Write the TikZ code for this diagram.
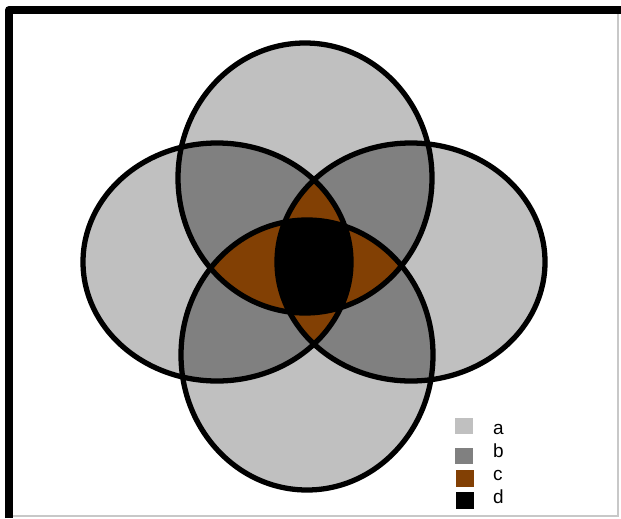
\documentclass[tikz,border=0pt]{standalone}
\usepackage{fontspec}
\setmainfont{Liberation Sans}
\definecolor{onecol}{RGB}{192,192,192}
\definecolor{twocol}{RGB}{128,128,128}
\definecolor{threecol}{RGB}{130,64,4}
\definecolor{fourcol}{RGB}{0,0,0}
\definecolor{edgecol}{RGB}{200,200,200}
% the four sets, y runs downward (pixel units)
\newcommand{\ellTop}[1]{\path[#1] (305,178) ellipse [x radius=127, y radius=135];}
\newcommand{\ellBot}[1]{\path[#1] (307,355) ellipse [x radius=126, y radius=135];}
\newcommand{\ellLeft}[1]{\path[#1] (217,262) ellipse [x radius=134, y radius=119];}
\newcommand{\ellRight}[1]{\path[#1] (411,262) ellipse [x radius=134, y radius=119];}
\tikzset{
  rim/.style={line width=7.5pt},
  swatch/.style={minimum width=25.6pt, minimum height=22.8pt, inner sep=0pt},
  keylabel/.style={anchor=base west, inner sep=0pt, font=\fontsize{27}{30}\selectfont}
}

\begin{document}
\begin{tikzpicture}[x=0.05cm,y=-0.05cm]
\useasboundingbox (0,0) rectangle (621,518);
% frame
\draw[line width=11.4pt, line join=round] (9,518) -- (9,10) -- (621,10);
\draw[edgecol, line width=2pt] (13,516) -- (618,516) -- (618,14);
% one set
\ellTop{fill=onecol}\ellBot{fill=onecol}\ellLeft{fill=onecol}\ellRight{fill=onecol}
% two sets
\begin{scope}\ellTop{clip}\ellLeft{fill=twocol}\ellRight{fill=twocol}\ellBot{fill=twocol}\end{scope}
\begin{scope}\ellBot{clip}\ellLeft{fill=twocol}\ellRight{fill=twocol}\end{scope}
\begin{scope}\ellLeft{clip}\ellRight{fill=twocol}\end{scope}
% three sets
\begin{scope}\ellTop{clip}\ellLeft{clip}\ellRight{fill=threecol}\ellBot{fill=threecol}\end{scope}
\begin{scope}\ellBot{clip}\ellLeft{clip}\ellRight{fill=threecol}\end{scope}
\begin{scope}\ellTop{clip}\ellBot{clip}\ellRight{fill=threecol}\end{scope}
% four sets
\begin{scope}\ellTop{clip}\ellBot{clip}\ellLeft{clip}\ellRight{fill=fourcol}\end{scope}
% outlines
\ellTop{draw,rim}\ellBot{draw,rim}\ellLeft{draw,rim}\ellRight{draw,rim}
% key
\node[swatch, fill=onecol] (sa) at (464,426) {};
\node[swatch, fill=twocol] (sb) at (464,456) {};
\node[swatch, fill=threecol] (sc) at (465,478.5) {};
\node[swatch, fill=fourcol] (sd) at (465,500.5) {};
\node[keylabel] (la) at (493,434) {a};
\node[keylabel] (lb) at (493,457) {b};
\node[keylabel] (lc) at (493,480) {c};
\node[keylabel] (ld) at (493,503) {d};
\end{tikzpicture}
\end{document}
